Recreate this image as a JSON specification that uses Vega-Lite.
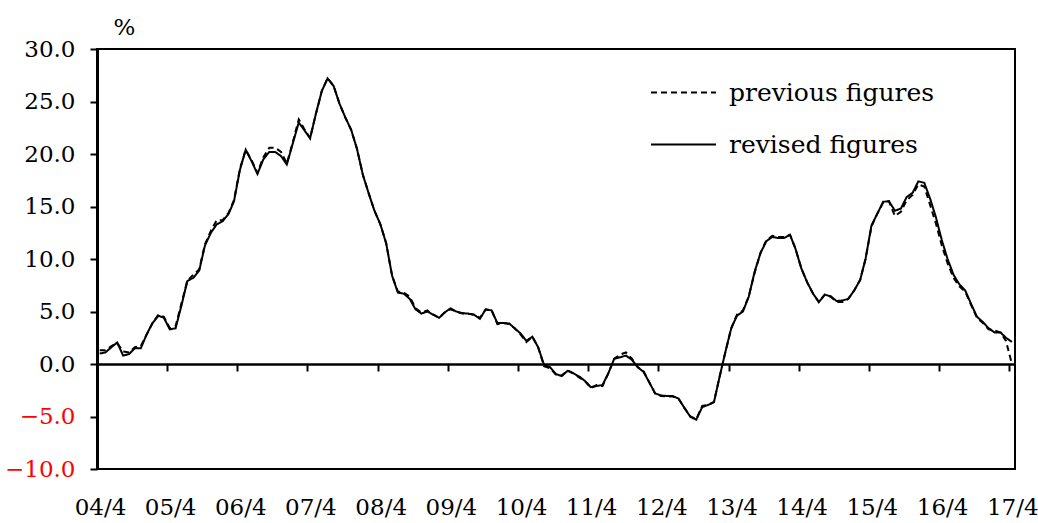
{
  "$schema": "https://vega.github.io/schema/vega-lite/v6.json",
  "width": 918,
  "height": 420,
  "autosize": {"type": "none"},
  "padding": {"left": 97, "top": 49, "right": 23, "bottom": 54},
  "background": "white",
  "config": {"view": {"stroke": "black", "strokeWidth": 2}, "font": "DejaVu Serif"},
  "data": {"values": [
    {"date":"2004-04-15","revised":1.0,"previous":1.3},
    {"date":"2004-05-15","revised":1.1,"previous":1.3},
    {"date":"2004-06-15","revised":1.6,"previous":1.7},
    {"date":"2004-07-15","revised":2.05,"previous":2.0},
    {"date":"2004-08-15","revised":0.8,"previous":1.2},
    {"date":"2004-09-15","revised":0.95,"previous":1.1},
    {"date":"2004-10-15","revised":1.5,"previous":1.6},
    {"date":"2004-11-15","revised":1.5,"previous":1.7},
    {"date":"2004-12-15","revised":2.8,"previous":2.8},
    {"date":"2005-01-15","revised":3.9,"previous":3.9},
    {"date":"2005-02-15","revised":4.6,"previous":4.7},
    {"date":"2005-03-15","revised":4.4,"previous":4.5},
    {"date":"2005-04-15","revised":3.3,"previous":3.4},
    {"date":"2005-05-15","revised":3.4,"previous":3.6},
    {"date":"2005-06-15","revised":5.6,"previous":5.8},
    {"date":"2005-07-15","revised":7.9,"previous":7.9},
    {"date":"2005-08-15","revised":8.2,"previous":8.5},
    {"date":"2005-09-15","revised":8.9,"previous":9.0},
    {"date":"2005-10-15","revised":11.3,"previous":11.4},
    {"date":"2005-11-15","revised":12.5,"previous":12.7},
    {"date":"2005-12-15","revised":13.3,"previous":13.7},
    {"date":"2006-01-15","revised":13.6,"previous":13.7},
    {"date":"2006-02-15","revised":14.3,"previous":14.4},
    {"date":"2006-03-15","revised":15.5,"previous":15.6},
    {"date":"2006-04-15","revised":18.5,"previous":18.6},
    {"date":"2006-05-15","revised":20.4,"previous":20.4},
    {"date":"2006-06-15","revised":19.3,"previous":19.4},
    {"date":"2006-07-15","revised":18.1,"previous":18.2},
    {"date":"2006-08-15","revised":19.5,"previous":19.7},
    {"date":"2006-09-15","revised":20.2,"previous":20.6},
    {"date":"2006-10-15","revised":20.2,"previous":20.6},
    {"date":"2006-11-15","revised":19.8,"previous":20.2},
    {"date":"2006-12-15","revised":19.0,"previous":19.1},
    {"date":"2007-01-15","revised":21.0,"previous":21.1},
    {"date":"2007-02-15","revised":23.0,"previous":23.3},
    {"date":"2007-03-15","revised":22.3,"previous":22.4},
    {"date":"2007-04-15","revised":21.5,"previous":21.5},
    {"date":"2007-05-15","revised":23.8,"previous":23.8},
    {"date":"2007-06-15","revised":26.0,"previous":26.0},
    {"date":"2007-07-15","revised":27.2,"previous":27.2},
    {"date":"2007-08-15","revised":26.5,"previous":26.5},
    {"date":"2007-09-15","revised":24.8,"previous":24.8},
    {"date":"2007-10-15","revised":23.5,"previous":23.5},
    {"date":"2007-11-15","revised":22.3,"previous":22.3},
    {"date":"2007-12-15","revised":20.5,"previous":20.5},
    {"date":"2008-01-15","revised":18.0,"previous":18.0},
    {"date":"2008-02-15","revised":16.2,"previous":16.2},
    {"date":"2008-03-15","revised":14.6,"previous":14.6},
    {"date":"2008-04-15","revised":13.3,"previous":13.3},
    {"date":"2008-05-15","revised":11.5,"previous":11.5},
    {"date":"2008-06-15","revised":8.4,"previous":8.4},
    {"date":"2008-07-15","revised":6.8,"previous":6.9},
    {"date":"2008-08-15","revised":6.7,"previous":6.8},
    {"date":"2008-09-15","revised":6.2,"previous":6.4},
    {"date":"2008-10-15","revised":5.2,"previous":5.3},
    {"date":"2008-11-15","revised":4.8,"previous":4.9},
    {"date":"2008-12-15","revised":5.0,"previous":5.1},
    {"date":"2009-01-15","revised":4.7,"previous":4.7},
    {"date":"2009-02-15","revised":4.4,"previous":4.4},
    {"date":"2009-03-15","revised":4.9,"previous":4.9},
    {"date":"2009-04-15","revised":5.3,"previous":5.2},
    {"date":"2009-05-15","revised":5.0,"previous":5.0},
    {"date":"2009-06-15","revised":4.85,"previous":4.8},
    {"date":"2009-07-15","revised":4.8,"previous":4.8},
    {"date":"2009-08-15","revised":4.7,"previous":4.7},
    {"date":"2009-09-15","revised":4.3,"previous":4.4},
    {"date":"2009-10-15","revised":5.2,"previous":5.2},
    {"date":"2009-11-15","revised":5.1,"previous":5.1},
    {"date":"2009-12-15","revised":3.9,"previous":3.8},
    {"date":"2010-01-15","revised":3.9,"previous":3.9},
    {"date":"2010-02-15","revised":3.85,"previous":3.8},
    {"date":"2010-03-15","revised":3.4,"previous":3.4},
    {"date":"2010-04-15","revised":2.9,"previous":2.8},
    {"date":"2010-05-15","revised":2.2,"previous":2.1},
    {"date":"2010-06-15","revised":2.6,"previous":2.6},
    {"date":"2010-07-15","revised":1.6,"previous":1.6},
    {"date":"2010-08-15","revised":-0.1,"previous":-0.2},
    {"date":"2010-09-15","revised":-0.3,"previous":-0.4},
    {"date":"2010-10-15","revised":-0.95,"previous":-1.0},
    {"date":"2010-11-15","revised":-1.15,"previous":-1.1},
    {"date":"2010-12-15","revised":-0.65,"previous":-0.6},
    {"date":"2011-01-15","revised":-0.9,"previous":-0.9},
    {"date":"2011-02-15","revised":-1.2,"previous":-1.3},
    {"date":"2011-03-15","revised":-1.6,"previous":-1.6},
    {"date":"2011-04-15","revised":-2.2,"previous":-2.3},
    {"date":"2011-05-15","revised":-2.1,"previous":-2.0},
    {"date":"2011-06-15","revised":-2.0,"previous":-2.1},
    {"date":"2011-07-15","revised":-0.9,"previous":-0.9},
    {"date":"2011-08-15","revised":0.5,"previous":0.5},
    {"date":"2011-09-15","revised":0.65,"previous":0.9},
    {"date":"2011-10-15","revised":0.8,"previous":1.1},
    {"date":"2011-11-15","revised":0.4,"previous":0.5},
    {"date":"2011-12-15","revised":-0.3,"previous":-0.3},
    {"date":"2012-01-15","revised":-0.75,"previous":-0.7},
    {"date":"2012-02-15","revised":-1.8,"previous":-1.8},
    {"date":"2012-03-15","revised":-2.8,"previous":-2.8},
    {"date":"2012-04-15","revised":-3.0,"previous":-3.05},
    {"date":"2012-05-15","revised":-3.05,"previous":-3.1},
    {"date":"2012-06-15","revised":-3.05,"previous":-3.1},
    {"date":"2012-07-15","revised":-3.3,"previous":-3.3},
    {"date":"2012-08-15","revised":-4.2,"previous":-4.2},
    {"date":"2012-09-15","revised":-5.05,"previous":-5.0},
    {"date":"2012-10-15","revised":-5.3,"previous":-5.25},
    {"date":"2012-11-15","revised":-4.1,"previous":-4.0},
    {"date":"2012-12-15","revised":-3.9,"previous":-3.9},
    {"date":"2013-01-15","revised":-3.65,"previous":-3.6},
    {"date":"2013-02-15","revised":-1.1,"previous":-1.1},
    {"date":"2013-03-15","revised":1.1,"previous":1.1},
    {"date":"2013-04-15","revised":3.4,"previous":3.4},
    {"date":"2013-05-15","revised":4.6,"previous":4.7},
    {"date":"2013-06-15","revised":5.0,"previous":5.1},
    {"date":"2013-07-15","revised":6.4,"previous":6.4},
    {"date":"2013-08-15","revised":8.8,"previous":8.7},
    {"date":"2013-09-15","revised":10.6,"previous":10.6},
    {"date":"2013-10-15","revised":11.7,"previous":11.8},
    {"date":"2013-11-15","revised":12.1,"previous":12.2},
    {"date":"2013-12-15","revised":12.0,"previous":12.1},
    {"date":"2014-01-15","revised":12.0,"previous":12.1},
    {"date":"2014-02-15","revised":12.3,"previous":12.3},
    {"date":"2014-03-15","revised":11.0,"previous":11.0},
    {"date":"2014-04-15","revised":9.1,"previous":9.1},
    {"date":"2014-05-15","revised":7.8,"previous":7.8},
    {"date":"2014-06-15","revised":6.7,"previous":6.7},
    {"date":"2014-07-15","revised":5.9,"previous":5.9},
    {"date":"2014-08-15","revised":6.6,"previous":6.6},
    {"date":"2014-09-15","revised":6.45,"previous":6.4},
    {"date":"2014-10-15","revised":6.0,"previous":5.9},
    {"date":"2014-11-15","revised":6.05,"previous":5.9},
    {"date":"2014-12-15","revised":6.2,"previous":6.2},
    {"date":"2015-01-15","revised":7.0,"previous":7.0},
    {"date":"2015-02-15","revised":8.0,"previous":8.0},
    {"date":"2015-03-15","revised":10.0,"previous":10.0},
    {"date":"2015-04-15","revised":13.2,"previous":13.1},
    {"date":"2015-05-15","revised":14.3,"previous":14.3},
    {"date":"2015-06-15","revised":15.45,"previous":15.4},
    {"date":"2015-07-15","revised":15.5,"previous":15.5},
    {"date":"2015-08-15","revised":14.6,"previous":14.1},
    {"date":"2015-09-15","revised":14.8,"previous":14.5},
    {"date":"2015-10-15","revised":15.9,"previous":15.6},
    {"date":"2015-11-15","revised":16.3,"previous":16.1},
    {"date":"2015-12-15","revised":17.4,"previous":17.1},
    {"date":"2016-01-15","revised":17.25,"previous":16.9},
    {"date":"2016-02-15","revised":15.7,"previous":15.1},
    {"date":"2016-03-15","revised":14.0,"previous":13.4},
    {"date":"2016-04-15","revised":11.8,"previous":11.3},
    {"date":"2016-05-15","revised":10.0,"previous":9.6},
    {"date":"2016-06-15","revised":8.5,"previous":8.2},
    {"date":"2016-07-15","revised":7.6,"previous":7.4},
    {"date":"2016-08-15","revised":7.0,"previous":6.9},
    {"date":"2016-09-15","revised":5.7,"previous":5.6},
    {"date":"2016-10-15","revised":4.5,"previous":4.4},
    {"date":"2016-11-15","revised":4.0,"previous":3.9},
    {"date":"2016-12-15","revised":3.4,"previous":3.3},
    {"date":"2017-01-15","revised":3.0,"previous":3.2},
    {"date":"2017-02-15","revised":3.0,"previous":3.0},
    {"date":"2017-03-15","revised":2.5,"previous":2.2},
    {"date":"2017-04-15","revised":2.1,"previous":0.0}
  ]},
  "transform": [{"fold": ["previous", "revised"], "as": ["series", "value"]}],
  "mark": {"type": "line", "strokeWidth": 2, "color": "black"},
  "encoding": {
    "x": {
      "field": "date",
      "type": "temporal",
      "scale": {"type": "utc", "domain": [{"year": 2004, "month": 4, "date": 1, "utc": true}, {"year": 2017, "month": 5, "date": 1, "utc": true}]},
      "axis": {
        "orient": "bottom",
        "offset": -105,
        "values": [
          {"year": 2004, "month": 4, "date": 1, "utc": true},
          {"year": 2005, "month": 4, "date": 1, "utc": true},
          {"year": 2006, "month": 4, "date": 1, "utc": true},
          {"year": 2007, "month": 4, "date": 1, "utc": true},
          {"year": 2008, "month": 4, "date": 1, "utc": true},
          {"year": 2009, "month": 4, "date": 1, "utc": true},
          {"year": 2010, "month": 4, "date": 1, "utc": true},
          {"year": 2011, "month": 4, "date": 1, "utc": true},
          {"year": 2012, "month": 4, "date": 1, "utc": true},
          {"year": 2013, "month": 4, "date": 1, "utc": true},
          {"year": 2014, "month": 4, "date": 1, "utc": true},
          {"year": 2015, "month": 4, "date": 1, "utc": true},
          {"year": 2016, "month": 4, "date": 1, "utc": true},
          {"year": 2017, "month": 4, "date": 1, "utc": true}
        ],
        "labelExpr": "utcFormat(datum.value, '%y/%-m')",
        "grid": false,
        "domain": true,
        "domainColor": "black",
        "domainWidth": 2.5,
        "ticks": true,
        "tickSize": 7,
        "tickWidth": 2,
        "tickColor": "black",
        "labelPadding": 125,
        "labelFontSize": 23,
        "labelFont": "DejaVu Serif",
        "labelColor": "black",
        "labelOffset": 3,
        "labelOverlap": false,
        "labelFlush": false,
        "title": null
      }
    },
    "y": {
      "field": "value",
      "type": "quantitative",
      "scale": {"domain": [-10, 30], "nice": false, "zero": false},
      "axis": {
        "values": [-10, -5, 0, 5, 10, 15, 20, 25, 30],
        "format": ".1f",
        "labelColor": {"condition": {"test": "datum.value < 0", "value": "#ff0000"}, "value": "black"},
        "grid": false,
        "domainWidth": 3,
        "domainColor": "black",
        "tickSize": 7,
        "tickWidth": 2,
        "tickColor": "black",
        "labelPadding": 15,
        "labelFontSize": 23,
        "labelFont": "DejaVu Serif",
        "title": "%",
        "titleFont": "DejaVu Serif",
        "titleAngle": 0,
        "titleX": 27,
        "titleY": -15,
        "titleAlign": "center",
        "titleBaseline": "alphabetic",
        "titleFontSize": 23,
        "titleFontWeight": "normal",
        "titleColor": "black"
      }
    },
    "strokeDash": {
      "field": "series",
      "type": "nominal",
      "scale": {"domain": ["previous", "revised"], "range": [[6, 4], [1, 0]]},
      "legend": {
        "title": null,
        "orient": "none",
        "legendX": 553,
        "legendY": 10,
        "padding": 0,
        "symbolType": "stroke",
        "symbolSize": 4225,
        "symbolStrokeWidth": 1.8,
        "symbolStrokeColor": "black",
        "labelFontSize": 25,
        "labelFont": "DejaVu Serif",
        "labelColor": "black",
        "labelOffset": 12,
        "labelLimit": 0,
        "rowPadding": 5,
        "labelExpr": "datum.label + ' figures'"
      }
    }
  }
}
